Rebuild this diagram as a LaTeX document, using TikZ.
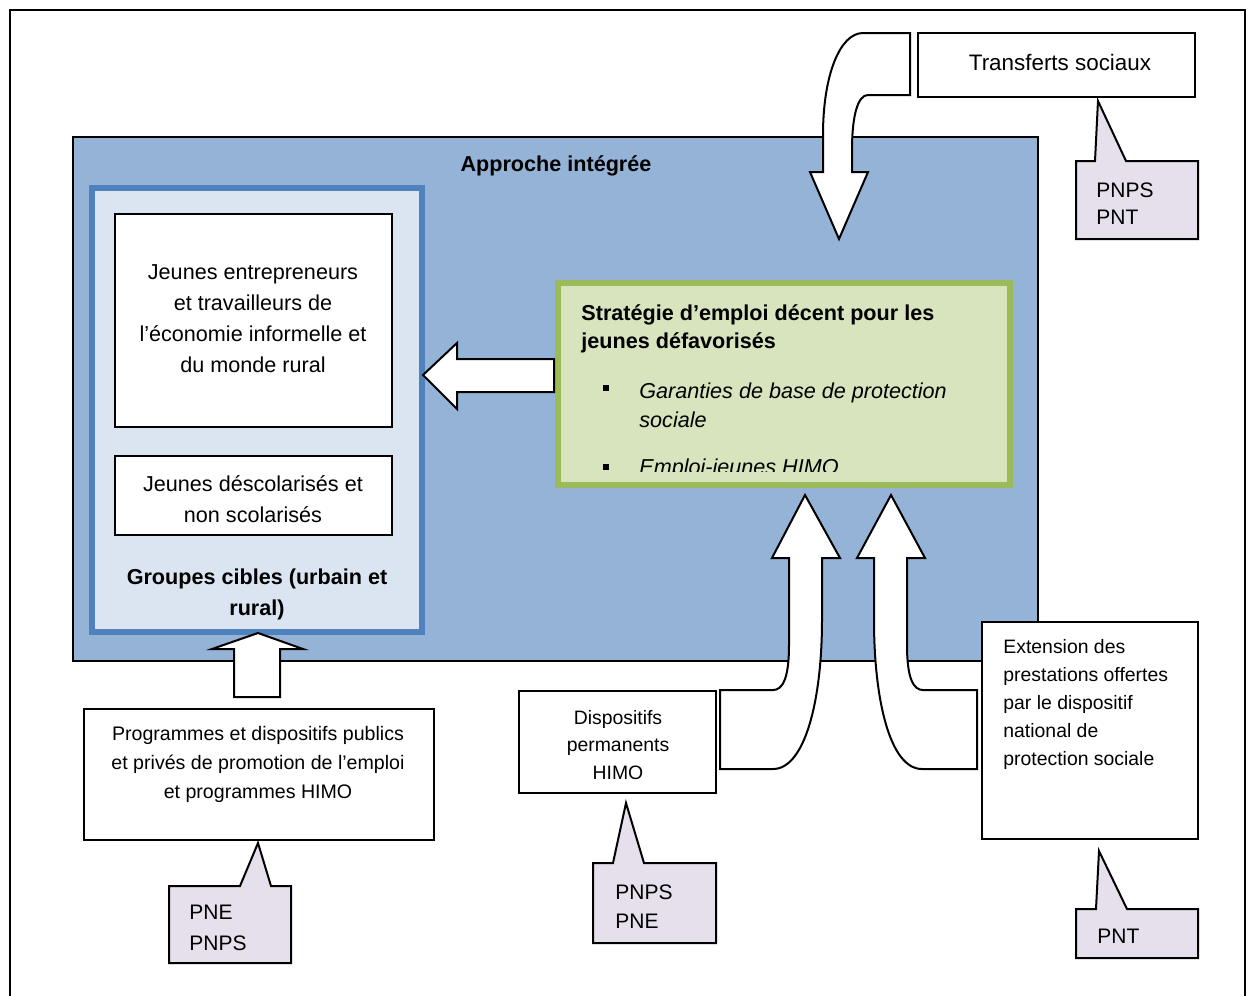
\documentclass[tikz,border=0pt]{standalone}
\usepackage{fontspec}
\setmainfont{Liberation Sans}
\usetikzlibrary{fit}

\definecolor{approchefond}{HTML}{95B3D7}
\definecolor{groupesfond}{HTML}{DBE5F1}
\definecolor{groupesbord}{HTML}{4F81BD}
\definecolor{stratfond}{HTML}{D7E4BD}
\definecolor{stratbord}{HTML}{9BBB59}
\definecolor{bullefond}{HTML}{E5E0EC}

\newcommand{\grand}{\fontsize{10.8}{15.5}\selectfont}
\newcommand{\petit}{\fontsize{9.7}{14}\selectfont}
\newcommand{\etiq}{\fontsize{10.5}{14.5}\selectfont}

\tikzset{
  boite/.style={draw, fill=white, line width=1pt, inner sep=0pt},
  fleche/.style={draw, fill=white, line width=1pt, line join=miter},
  bulle/.style={draw, fill=bullefond, line width=1pt},
  texte/.style={inner sep=0pt, align=center},
}

\begin{document}
\begin{tikzpicture}[x=0.5pt,y=-0.5pt]
\useasboundingbox (0,0) rectangle (1249,996);
% cadre
\draw[line width=1pt] (10,1010) -- (10,10) -- (1245,10) -- (1245,1010);

% approche integree
\node[boite, fill=approchefond, fit={(73,137) (1038,661)}] (approche) {};
\node[texte, anchor=base, font=\grand\bfseries] (approchetitre) at (556,171) {Approche intégrée};

% groupes cibles (base = derniere ligne)
\node[boite, draw=groupesbord, fill=groupesfond, line width=3pt, fit={(92,188) (422,632)}] (groupes) {};
\node[boite, fit={(115,214) (392,427)}] (entrep) {};
\node[texte, anchor=base, font=\grand] (entreptexte) at (253,372)
  {Jeunes entrepreneurs\\et travailleurs de\\l’économie informelle et\\du monde rural};
\node[boite, fit={(115,456) (392,535)}] (descol) {};
\node[texte, anchor=base, font=\grand] (descoltexte) at (253,522)
  {Jeunes déscolarisés et\\non scolarisés};
\node[texte, anchor=base, font=\grand\bfseries] (groupestitre) at (257,615)
  {Groupes cibles (urbain et\\rural)};

% strategie
\node[boite, draw=stratbord, fill=stratfond, line width=3.2pt, fit={(558,283) (1010,485)}] (strat) {};
\node[texte, align=left, anchor=base west, font=\fontsize{10.8}{14}\selectfont\bfseries] (strattitre) at (581,348)
  {Stratégie d’emploi décent pour les\\jeunes défavorisés};
\fill (603,385) rectangle (609,391);
\node[texte, align=left, anchor=base west, font=\fontsize{10.8}{14.5}\selectfont\itshape] (garanties) at (639,427)
  {Garanties de base de protection\\sociale};
\begin{scope}
  \clip (562,440) rectangle (1006,471);
  \fill (603,464) rectangle (609,470);
  \node[texte, anchor=base west, font=\fontsize{10.8}{14.5}\selectfont\itshape] (emploi) at (639,474) {Emploi-jeunes HIMO};
\end{scope}

% fleches
\draw[fleche] (554,359) -- (457,359) -- (457,343) -- (423,375) -- (457,409) -- (457,392) -- (554,392) -- cycle;
\draw[fleche] (234,697) -- (234,649) -- (212,649) -- (258,633) -- (303,649) -- (280,649) -- (280,697) -- cycle;
\draw[fleche] (910,33) -- (863,33) .. controls (840,33) and (823,75) .. (823,135) -- (823,172) -- (810,172)
  -- (839,239) -- (868,172) -- (852,172) -- (852,150) .. controls (852,115) and (858,95) .. (868,95) -- (910,95) -- cycle;
\draw[fleche] (805,495) -- (840,558) -- (822,558) -- (822,620) .. controls (822,700) and (805,769) .. (773,769)
  -- (720,769) -- (720,690) -- (773,690) .. controls (782,690) and (789,680) .. (789,645) -- (789,558) -- (772,558) -- cycle;
\draw[fleche] (891,495) -- (925,558) -- (907,558) -- (907,645) .. controls (907,680) and (914,690) .. (923,690)
  -- (977,690) -- (977,769) -- (922,769) .. controls (890,769) and (874,700) .. (874,620) -- (874,558) -- (857,558) -- cycle;

% transferts
\node[boite, fit={(918,33) (1195,97)}] (transferts) {};
\node[texte, anchor=base, font=\fontsize{11.2}{14}\selectfont] (transfertstexte) at (1060,70) {Transferts sociaux};

% boites du bas
\node[boite, fit={(84,709) (434,840)}] (progr) {};
\node[texte, anchor=base, font=\fontsize{9.8}{14.3}\selectfont] (progrtexte) at (258,798)
  {Programmes et dispositifs publics\\et privés de promotion de l’emploi\\et programmes HIMO};
\node[boite, fit={(519,691) (716,793)}] (disp) {};
\node[texte, anchor=base, font=\fontsize{9.7}{13.7}\selectfont] (disptexte) at (618,779)
  {Dispositifs\\permanents\\HIMO};
\node[boite, fit={(982,622) (1198,839)}] (ext) {};
\node[texte, align=left, anchor=base west, font=\petit] (exttexte) at (1003,765)
  {Extension des\\prestations offertes\\par le dispositif\\national de\\protection sociale};

% bulles
\draw[bulle] (1076,161) -- (1095,161) -- (1098,101) -- (1126,161) -- (1198,161) -- (1198,239) -- (1076,239) -- cycle;
\draw[bulle] (169,886) -- (240,886) -- (258,843) -- (271,886) -- (291,886) -- (291,963) -- (169,963) -- cycle;
\draw[bulle] (593,863) -- (613,863) -- (626,803) -- (644,863) -- (716,863) -- (716,943) -- (593,943) -- cycle;
\draw[bulle] (1076,909) -- (1096,909) -- (1099,851) -- (1127,909) -- (1198,909) -- (1198,958) -- (1076,958) -- cycle;
\node[texte, align=left, anchor=base west, font=\fontsize{10.5}{13.5}\selectfont] (bulletransf) at (1096,224) {PNPS\\PNT};
\node[texte, align=left, anchor=base west, font=\fontsize{10.5}{15.5}\selectfont] (bulleprogr) at (189,950) {PNE\\PNPS};
\node[texte, align=left, anchor=base west, font=\etiq] (bulledisp) at (615,928) {PNPS\\PNE};
\node[texte, align=left, anchor=base west, font=\etiq] (bulleext) at (1097,943) {PNT};
\end{tikzpicture}
\end{document}
